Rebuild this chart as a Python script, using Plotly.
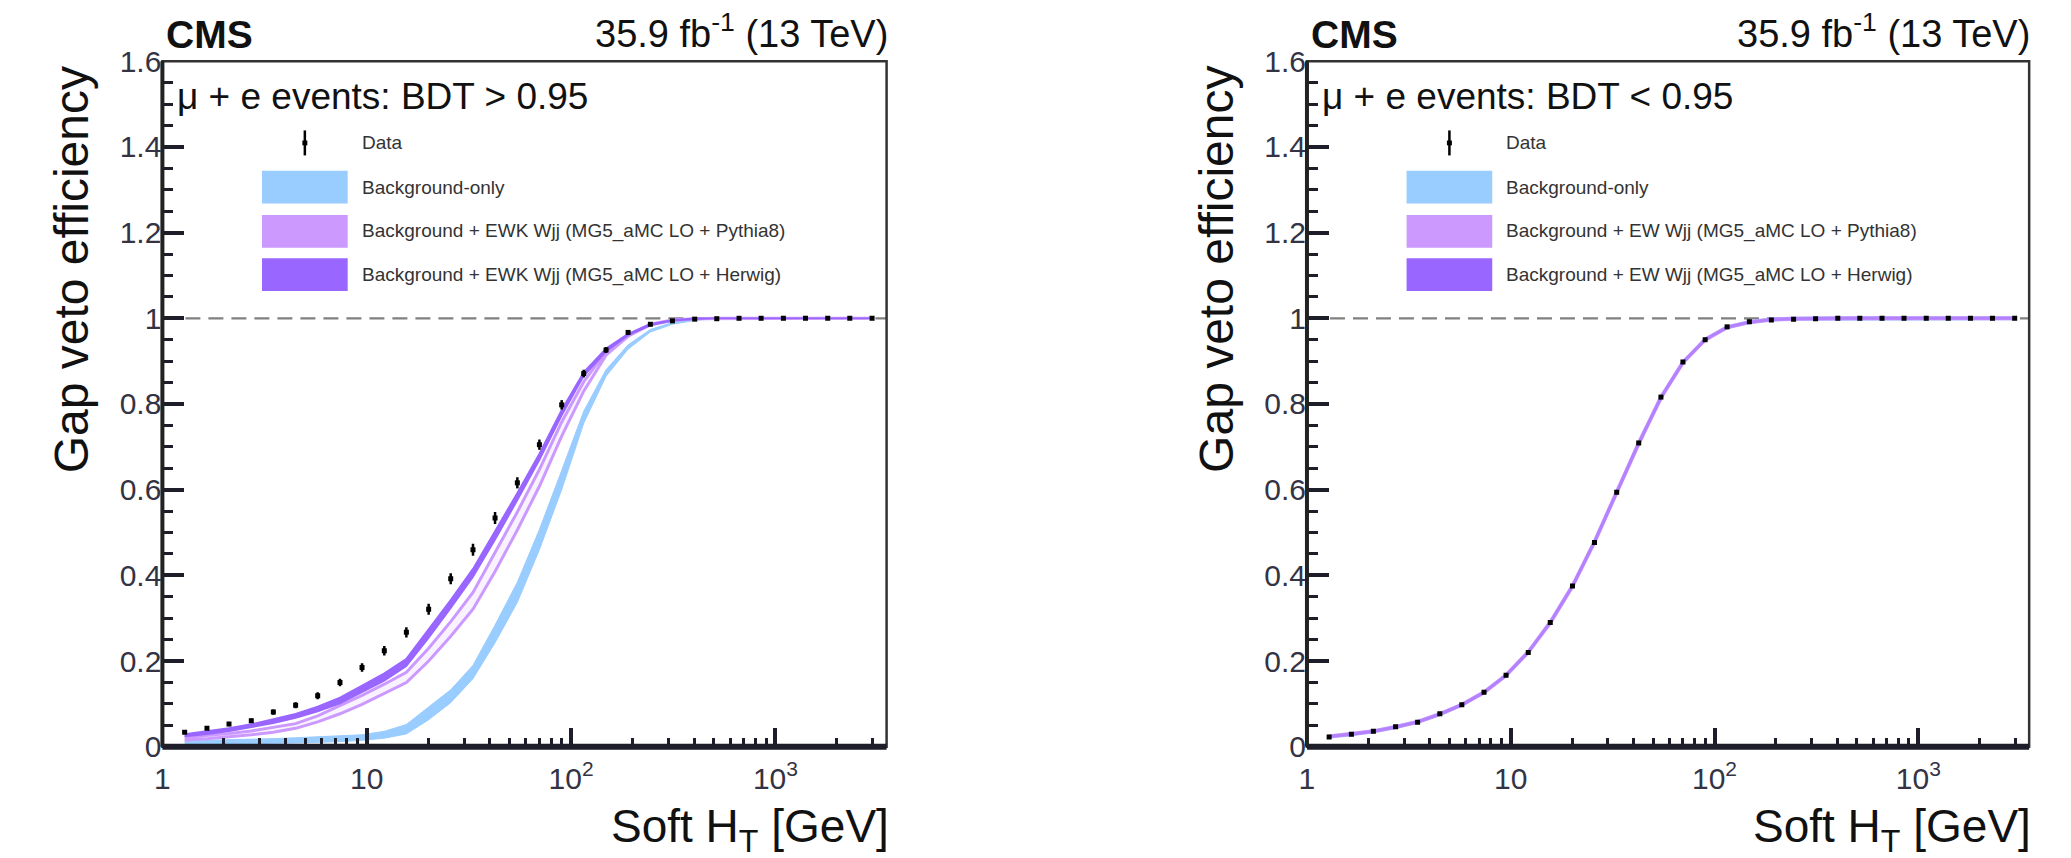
import math
import plotly.graph_objects as go

# ---------------- data ----------------
soft_ht = [1.285, 1.652, 2.118, 2.723, 3.491, 4.487, 5.754, 7.396, 9.484, 12.19, 15.63, 20.09,
           25.76, 33.11, 42.46, 54.58, 69.98, 89.95, 115.3, 148.3, 190.1, 244.3, 313.3, 402.7,
           516.4, 663.7, 851.1, 1094, 1403, 1803, 2312, 2972]

# Left panel: BDT > 0.95
left_data = [0.034, 0.043, 0.053, 0.061, 0.081, 0.097, 0.119, 0.150, 0.185, 0.224, 0.267, 0.321,
             0.392, 0.460, 0.534, 0.616, 0.705, 0.798, 0.871, 0.926, 0.967, 0.986, 0.994, 0.998,
             0.999, 1.0, 1.0, 1.0, 1.0, 1.0, 1.0, 1.0]
left_data_err = [0.004, 0.004, 0.005, 0.005, 0.006, 0.007, 0.008, 0.009, 0.010, 0.011, 0.012, 0.013,
                 0.013, 0.014, 0.014, 0.013, 0.012, 0.011, 0.009, 0.007, 0.005, 0.004, 0.003, 0.002,
                 0.002, 0.001, 0.001, 0.001, 0.001, 0.001, 0.001, 0.001]
left_bkg_lo = [0.004, 0.005, 0.006, 0.007, 0.008, 0.009, 0.010, 0.012, 0.015, 0.020, 0.030, 0.063,
               0.103, 0.159, 0.243, 0.337, 0.460, 0.600, 0.755, 0.865, 0.928, 0.968, 0.986, 0.995,
               0.999, 1.0, 1.0, 1.0, 1.0, 1.0, 1.0, 1.0]
left_bkg_hi = [0.014, 0.015, 0.016, 0.017, 0.019, 0.021, 0.023, 0.025, 0.028, 0.036, 0.052, 0.093,
               0.133, 0.190, 0.284, 0.384, 0.507, 0.645, 0.783, 0.880, 0.938, 0.974, 0.990, 0.998,
               1.0, 1.0, 1.0, 1.0, 1.0, 1.0, 1.0, 1.0]
left_pythia_lo = [0.016, 0.019, 0.023, 0.028, 0.034, 0.043, 0.058, 0.077, 0.099, 0.124, 0.150, 0.200,
                  0.258, 0.321, 0.409, 0.506, 0.608, 0.725, 0.830, 0.914, 0.958, 0.985, 0.995, 0.999,
                  1.0, 1.0, 1.0, 1.0, 1.0, 1.0, 1.0, 1.0]
left_pythia_hi = [0.022, 0.026, 0.031, 0.037, 0.045, 0.054, 0.072, 0.096, 0.120, 0.146, 0.174, 0.230,
                  0.292, 0.360, 0.452, 0.548, 0.647, 0.758, 0.852, 0.922, 0.961, 0.986, 0.996, 0.999,
                  1.0, 1.0, 1.0, 1.0, 1.0, 1.0, 1.0, 1.0]
left_herwig_lo = [0.024, 0.029, 0.036, 0.045, 0.055, 0.067, 0.082, 0.101, 0.127, 0.154, 0.188, 0.254,
                  0.323, 0.396, 0.483, 0.575, 0.669, 0.773, 0.865, 0.922, 0.960, 0.983, 0.994, 0.998,
                  1.0, 1.0, 1.0, 1.0, 1.0, 1.0, 1.0, 1.0]
left_herwig_hi = [0.030, 0.037, 0.044, 0.053, 0.065, 0.077, 0.094, 0.115, 0.143, 0.172, 0.206, 0.274,
                  0.343, 0.416, 0.503, 0.593, 0.685, 0.787, 0.875, 0.930, 0.964, 0.987, 0.996, 1.0,
                  1.0, 1.0, 1.0, 1.0, 1.0, 1.0, 1.0, 1.0]

# Right panel: BDT < 0.95
right_data = [0.023, 0.029, 0.036, 0.047, 0.057, 0.077, 0.098, 0.127, 0.167, 0.220, 0.290, 0.375,
              0.477, 0.594, 0.709, 0.816, 0.898, 0.950, 0.980, 0.992, 0.996, 0.998, 0.999, 1.0,
              1.0, 1.0, 1.0, 1.0, 1.0, 1.0, 1.0, 1.0]
right_data_err = [0.003, 0.003, 0.003, 0.003, 0.003, 0.004, 0.004, 0.004, 0.004, 0.004, 0.004, 0.004,
                  0.004, 0.004, 0.004, 0.004, 0.003, 0.003, 0.002, 0.002, 0.001, 0.001, 0.001, 0.001,
                  0.001, 0.001, 0.001, 0.001, 0.001, 0.001, 0.001, 0.001]
right_model = [0.024, 0.029, 0.036, 0.046, 0.058, 0.076, 0.098, 0.127, 0.167, 0.221, 0.290, 0.375,
               0.478, 0.594, 0.708, 0.815, 0.897, 0.950, 0.979, 0.991, 0.997, 0.999, 1.0, 1.0,
               1.0, 1.0, 1.0, 1.0, 1.0, 1.0, 1.0, 1.0]
right_model_halfwidth = 0.004

x_range_max = 3500.0
y_ticks = [0, 0.2, 0.4, 0.6, 0.8, 1.0, 1.2, 1.4, 1.6]
y_ticktext = ["0", "0.2", "0.4", "0.6", "0.8", "1", "1.2", "1.4", "1.6"]
x_ticks = [1, 10, 100, 1000]
x_ticktext = ["1", "10", "10<sup>2</sup>", "10<sup>3</sup>"]
x_minor = [2, 3, 4, 5, 6, 7, 8, 9, 20, 30, 40, 50, 60, 70, 80, 90,
           200, 300, 400, 500, 600, 700, 800, 900, 2000, 3000]
ref_level = 1.0

selection_labels = ["\u03bc + e events: BDT &gt; 0.95", "\u03bc + e events: BDT &lt; 0.95"]
legend_labels = [
    ["Data", "Background-only",
     "Background + EWK Wjj (MG5_aMC LO + Pythia8)",
     "Background + EWK Wjj (MG5_aMC LO + Herwig)"],
    ["Data", "Background-only",
     "Background + EW Wjj (MG5_aMC LO + Pythia8)",
     "Background + EW Wjj (MG5_aMC LO + Herwig)"],
]

# ---------------- style / layout constants ----------------
W, H = 2071, 858
FONT = "Liberation Sans, Arial, Helvetica, sans-serif"
C_BKG = "#99CCFF"
C_PYT = "#CC99FF"
C_HER = "#9966FF"
AX_COL = "#1e1e2a"

panels = [dict(left=155, right=882), dict(left=1304, right=2029)]
top_px, bot_px = 47, 760


def fx(p):
    return p / W


def fy(p):
    return 1 - p / H


def band(xs, lo, hi):
    return list(xs) + list(xs)[::-1], list(hi) + list(lo)[::-1]


fig = go.Figure()

# ---------- left panel traces ----------
bx, by = band(soft_ht, left_bkg_lo, left_bkg_hi)
fig.add_trace(go.Scatter(x=bx, y=by, fill="toself", fillcolor=C_BKG, mode="lines",
                         line=dict(color=C_BKG, width=1), xaxis="x", yaxis="y", showlegend=False,
                         hoverinfo="skip"))
px_, py_ = band(soft_ht, left_pythia_lo, left_pythia_hi)
fig.add_trace(go.Scatter(x=px_, y=py_, fill="toself", fillcolor="rgba(204,153,255,0.12)", mode="lines",
                         line=dict(color=C_PYT, width=3), xaxis="x", yaxis="y", showlegend=False,
                         hoverinfo="skip"))
hx, hy = band(soft_ht, left_herwig_lo, left_herwig_hi)
fig.add_trace(go.Scatter(x=hx, y=hy, fill="toself", fillcolor=C_HER, mode="lines",
                         line=dict(color=C_HER, width=1.5), xaxis="x", yaxis="y", showlegend=False,
                         hoverinfo="skip"))
fig.add_trace(go.Scatter(x=soft_ht, y=left_data, mode="markers",
                         marker=dict(symbol="square", size=5, color="black"),
                         error_y=dict(type="data", array=left_data_err, width=0, thickness=2.5, color="black"),
                         xaxis="x", yaxis="y", showlegend=False))

# ---------- right panel traces ----------
r_lo = [v - right_model_halfwidth for v in right_model]
r_hi = [min(v + right_model_halfwidth, 1.0 + right_model_halfwidth) for v in right_model]
rx, ry = band(soft_ht, r_lo, r_hi)
fig.add_trace(go.Scatter(x=rx, y=ry, fill="toself", fillcolor=C_BKG, mode="lines",
                         line=dict(color=C_BKG, width=0.5), xaxis="x2", yaxis="y2", showlegend=False,
                         hoverinfo="skip"))
fig.add_trace(go.Scatter(x=soft_ht, y=right_model, mode="lines",
                         line=dict(color=C_PYT, width=4), xaxis="x2", yaxis="y2", showlegend=False,
                         hoverinfo="skip"))
fig.add_trace(go.Scatter(x=soft_ht, y=right_model, mode="lines",
                         line=dict(color="rgba(153,102,255,0.45)", width=3), xaxis="x2", yaxis="y2",
                         showlegend=False, hoverinfo="skip"))
fig.add_trace(go.Scatter(x=soft_ht, y=right_data, mode="markers",
                         marker=dict(symbol="square", size=5, color="black"),
                         error_y=dict(type="data", array=right_data_err, width=0, thickness=2.5, color="black"),
                         xaxis="x2", yaxis="y2", showlegend=False))

# ---------- axes ----------
def xaxis_cfg(p):
    return dict(domain=[fx(p["left"]), fx(p["right"])], type="log",
                range=[0, math.log10(x_range_max)], showline=False, showgrid=False, zeroline=False,
                tickmode="array", tickvals=x_ticks, ticktext=x_ticktext,
                ticks="inside", ticklen=19, tickwidth=3.5, tickcolor=AX_COL,
                minor=dict(tickmode="array", tickvals=x_minor, ticks="inside", ticklen=9,
                           tickwidth=3, tickcolor=AX_COL, showgrid=False),
                tickfont=dict(family=FONT, size=30, color="#333344"), ticklabelstandoff=11,
                fixedrange=True)


def yaxis_cfg():
    return dict(domain=[fy(bot_px), fy(top_px)], range=[0, 1.6], showline=False, showgrid=False,
                zeroline=False, tickmode="array", tickvals=y_ticks, ticktext=y_ticktext,
                ticks="inside", ticklen=22, tickwidth=3.5, tickcolor=AX_COL,
                minor=dict(tickmode="linear", tick0=0, dtick=0.05, ticks="inside", ticklen=11,
                           tickwidth=3, tickcolor=AX_COL, showgrid=False),
                tickfont=dict(family=FONT, size=30, color="#333344"), ticklabelstandoff=0,
                fixedrange=True)


ya1 = yaxis_cfg()
ya1["anchor"] = "x"
ya2 = yaxis_cfg()
ya2["anchor"] = "x2"
xa1 = xaxis_cfg(panels[0])
xa1["anchor"] = "y"
xa2 = xaxis_cfg(panels[1])
xa2["anchor"] = "y2"

shapes = []
annotations = []
for i, p in enumerate(panels):
    xs = "x" if i == 0 else "x2"
    ys = "y" if i == 0 else "y2"
    # reference dashed line at efficiency = 1
    shapes.append(dict(type="line", xref=f"{xs} domain", yref=ys, x0=0, x1=1, y0=ref_level, y1=ref_level,
                       line=dict(color="#808080", width=2.2, dash="15px,8px"), layer="below"))
    # frame
    shapes.append(dict(type="rect", xref=f"{xs} domain", yref=f"{ys} domain", x0=0, x1=1, y0=0, y1=1,
                       line=dict(color="#333333", width=2.5), layer="above"))
    shapes.append(dict(type="line", xref=f"{xs} domain", yref=f"{ys} domain", x0=0, x1=1, y0=0, y1=0,
                       line=dict(color=AX_COL, width=6), layer="above"))
    shapes.append(dict(type="line", xref=f"{xs} domain", yref=f"{ys} domain", x0=0, x1=0, y0=0, y1=1,
                       line=dict(color="#222222", width=4), layer="above"))

    L = p["left"]
    R = p["right"]
    # CMS + lumi
    annotations.append(dict(text="<b>CMS</b>", xref="paper", yref="paper", x=fx(L + 2), y=fy(19),
                            xanchor="left", yanchor="middle", showarrow=False,
                            font=dict(family=FONT, size=39, color="#111111")))
    annotations.append(dict(text="35.9 fb<sup>-1</sup> (13 TeV)", xref="paper", yref="paper",
                            x=fx(R + 3), y=fy(16), xanchor="right", yanchor="middle", showarrow=False,
                            font=dict(family=FONT, size=38, color="#111111")))
    # selection label
    annotations.append(dict(text=selection_labels[i], xref="paper", yref="paper", x=fx(L + 13), y=fy(84),
                            xanchor="left", yanchor="middle", showarrow=False,
                            font=dict(family=FONT, size=37, color="#111111")))
    # axis titles
    annotations.append(dict(text="Gap veto efficiency", xref="paper", yref="paper", x=fx(L - 91),
                            y=fy(50), xanchor="center", yanchor="top", textangle=-90, showarrow=False,
                            font=dict(family=FONT, size=48, color="#111111")))
    annotations.append(dict(text="Soft H<sub>T</sub> [GeV]", xref="paper", yref="paper", x=fx(R + 4),
                            y=fy(846), xanchor="right", yanchor="middle", showarrow=False,
                            font=dict(family=FONT, size=46, color="#111111")))

    # legend (drawn manually to match the ROOT layout)
    box_l, box_r = L + 100, L + 186
    rows = [132, 178, 224, 269]
    colors = [None, C_BKG, C_PYT, C_HER]
    mid = (box_l + box_r) / 2
    shapes.append(dict(type="line", xref="paper", yref="paper", x0=fx(mid), x1=fx(mid),
                       y0=fy(rows[0] - 13), y1=fy(rows[0] + 13), line=dict(color="black", width=2.5)))
    shapes.append(dict(type="rect", xref="paper", yref="paper", x0=fx(mid - 2.5), x1=fx(mid + 2.5),
                       y0=fy(rows[0] - 2.5), y1=fy(rows[0] + 2.5), fillcolor="black",
                       line=dict(width=0)))
    for k in range(1, 4):
        shapes.append(dict(type="rect", xref="paper", yref="paper", x0=fx(box_l), x1=fx(box_r),
                           y0=fy(rows[k] - 17), y1=fy(rows[k] + 17), fillcolor=colors[k],
                           line=dict(width=0)))
    for k in range(4):
        annotations.append(dict(text=legend_labels[i][k], xref="paper", yref="paper",
                                x=fx(L + 198), y=fy(rows[k]), xanchor="left", yanchor="middle",
                                showarrow=False, font=dict(family=FONT, size=19, color="#333333")))

fig.update_layout(
    width=W, height=H, margin=dict(l=0, r=0, t=0, b=0),
    paper_bgcolor="white", plot_bgcolor="white",
    xaxis=xa1, yaxis=ya1, xaxis2=xa2, yaxis2=ya2,
    shapes=shapes, annotations=annotations, showlegend=False,
    font=dict(family=FONT),
)

fig.write_html("out.html", config={"displayModeBar": False},
               post_script="document.body.style.margin='0px';document.body.style.overflow='hidden';")
